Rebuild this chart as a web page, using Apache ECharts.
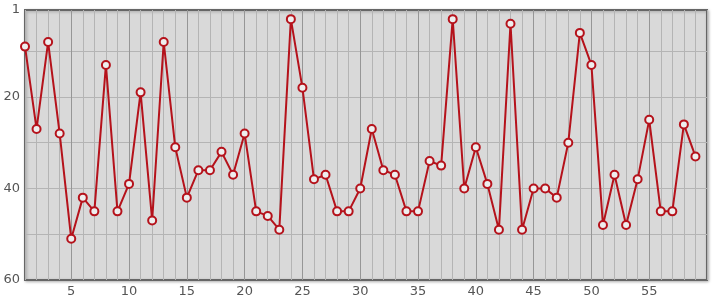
<!DOCTYPE html>
<html><head><meta charset="utf-8">
<script src="https://cdn.jsdelivr.net/npm/echarts@6/dist/echarts.min.js"></script>
<style>html,body{margin:0;padding:0;background:#fff}#c{width:715px;height:300px}</style>
</head><body><div id="c"></div>
<script>
var categories = [1,2,3,4,5,6,7,8,9,10,11,12,13,14,15,16,17,18,19,20,21,22,23,24,25,26,27,28,29,30,31,32,33,34,35,36,37,38,39,40,41,42,43,44,45,46,47,48,49,50,51,52,53,54,55,56,57,58,59];
var values = [9,27,8,28,51,42,45,13,45,39,19,47,8,31,42,36,36,32,37,28,45,46,49,3,18,38,37,45,45,40,27,36,37,45,45,34,35,3,40,31,39,49,4,49,40,40,42,30,6,13,48,37,48,38,25,45,45,26,33];
var xTickLabels = [5,10,15,20,25,30,35,40,45,50,55];
var yTickLabels = [1,20,40,60];
var yGridValues = [10,20,30,40,50];

var pts = categories.map(function(c,i){return [c, values[i]];});
var font = {fontFamily:'DejaVu Sans', fontSize:13, color:'#555'};
var chart = echarts.init(document.getElementById('c'));
chart.setOption({
  animation:false,
  grid:{left:25,right:8,top:10,bottom:20,show:true,backgroundColor:'#d9d9d9',borderColor:'#666',borderWidth:2,
        shadowColor:'rgba(0,0,0,0.25)',shadowBlur:3,shadowOffsetX:1,shadowOffsetY:1},
  xAxis:[{
    type:'value',min:1,max:60,interval:1,
    axisLine:{show:false},axisTick:{show:false},axisLabel:{show:false},
    splitLine:{show:true,lineStyle:{color:'#b4b4b4',width:1}}
  },{
    type:'value',min:1,max:60,position:'bottom',
    axisLine:{show:false},
    axisTick:{show:false,customValues:xTickLabels},
    axisLabel:Object.assign({customValues:xTickLabels,margin:5},font),
    splitLine:{show:true,lineStyle:{color:'#969696',width:1}}
  }],
  yAxis:{
    type:'value',min:1,max:60,inverse:true,
    axisLine:{show:false},
    axisTick:{show:false,customValues:yGridValues},
    axisLabel:Object.assign({customValues:yTickLabels,margin:5},font),
    splitLine:{show:true,lineStyle:{color:'#b4b4b4',width:1}}
  },
  series:[{
    type:'line',xAxisIndex:1,data:pts,
    symbol:'circle',symbolSize:8,
    lineStyle:{color:'#b5121b',width:2},
    itemStyle:{color:'#eeeeee',borderColor:'#b5121b',borderWidth:2},
    z:5
  }]
});
</script></body></html>
